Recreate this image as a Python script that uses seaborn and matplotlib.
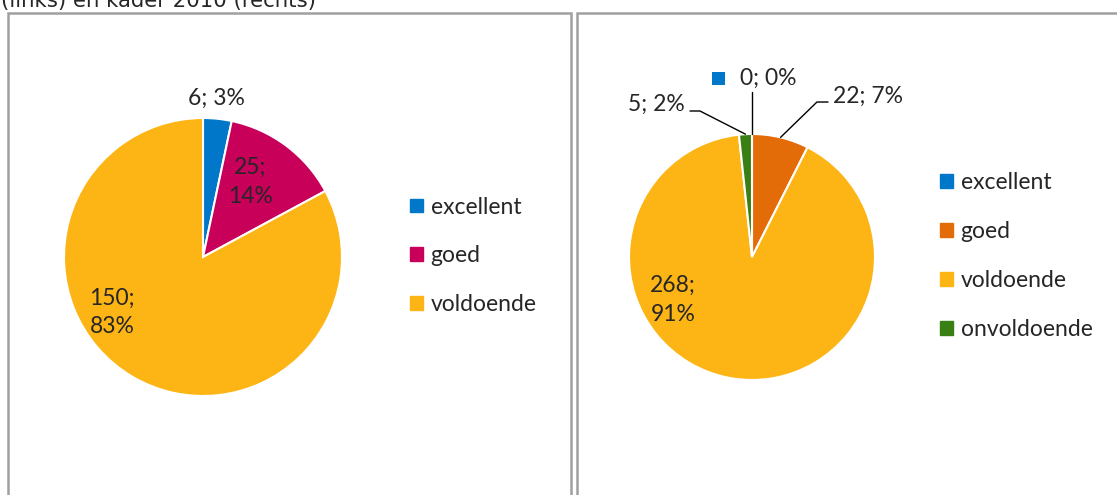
import numpy as np
import matplotlib
matplotlib.use("Agg")
import matplotlib.pyplot as plt
import seaborn as sns
from matplotlib.patches import Rectangle

sns.set_style("white")
plt.rcParams['font.family'] = ['Lato', 'DejaVu Sans']

# data
categories_left = ['excellent', 'goed', 'voldoende']
values_left = [6, 25, 150]
categories_right = ['excellent', 'goed', 'voldoende', 'onvoldoende']
values_right = [0, 22, 268, 5]

colors_left = ['#0077C8', '#C8005A', '#FDB515']
colors_right = ['#0077C8', '#E36C09', '#FDB515', '#3A7F14']

W, H = 1117, 495
fig = plt.figure(figsize=(W / 100, H / 100), dpi=100)


def px_axes(x0, y0, x1, y1):
    # pixel box (top-left origin) -> axes
    return fig.add_axes([x0 / W, 1 - y1 / H, (x1 - x0) / W, (y1 - y0) / H])


def pie_panel(box, center, radius, values, colors):
    ax = px_axes(*box)
    ax.pie(values, colors=colors, startangle=90, counterclock=False,
           wedgeprops=dict(edgecolor='white', linewidth=1.5))
    x0, y0, x1, y1 = box
    cx, cy = center
    ax.set_xlim((x0 - cx) / radius, (x1 - cx) / radius)
    ax.set_ylim((cy - y1) / radius, (cy - y0) / radius)
    ax.set_aspect('auto')
    ax.axis('off')
    return ax


def mid_angle(values, i):
    tot = sum(values)
    start = 90 - 360 * sum(values[:i]) / tot
    return np.deg2rad(start - 180 * values[i] / tot)


def lab(v, tot, sep='; '):
    return f"{v}{sep}{round(100 * v / tot)}%"


fs = 16.5
ls = 1.45

# left panel
axl = pie_panel((8, 13, 571, 495), (203, 257), 139, values_left, colors_left)
tl = sum(values_left)
axl.text(0.094, 1.14, lab(values_left[0], tl), ha='center', va='center', fontsize=fs)
axl.text(0.34, 0.54, lab(values_left[1], tl, ';\n'), ha='center', va='center',
         fontsize=fs, linespacing=ls)
axl.text(-0.655, -0.40, lab(values_left[2], tl, ';\n'), ha='center', va='center',
         fontsize=fs, linespacing=ls)

# right panel
axr = pie_panel((577, 13, 1130, 495), (752, 257), 123, values_right, colors_right)
tr = sum(values_right)
axr.text(-0.64, -0.35, lab(values_right[2], tr, ';\n'), ha='center', va='center',
         fontsize=fs, linespacing=ls)

# leader lines
lc = dict(color='black', lw=1.0)
# 0; 0%
a = mid_angle(values_right, 0)
axr.plot([np.cos(a), np.cos(a)], [1.0, 1.34], **lc)
axr.text(-0.10, 1.45, lab(values_right[0], tr), ha='left', va='center', fontsize=fs)
axr.add_patch(Rectangle((-0.325, 1.40), 0.105, 0.105, color=colors_right[0], lw=0))
# 22; 7%
a = mid_angle(values_right, 1)
axr.plot([np.cos(a), 0.528, 0.618], [np.sin(a), 1.26, 1.26], **lc)
axr.text(0.655, 1.31, lab(values_right[1], tr), ha='left', va='center', fontsize=fs)
# 5; 2%
a = mid_angle(values_right, 3)
axr.plot([np.cos(a), -0.423, -0.504], [np.sin(a), 1.187, 1.187], **lc)
axr.text(-0.545, 1.245, lab(values_right[3], tr), ha='right', va='center', fontsize=fs)

# panel frames
for x0, x1 in [(8, 571), (577, 1140)]:
    fig.add_artist(Rectangle((x0 / W, -0.1), (x1 - x0) / W, 1 - 13 / H + 0.1,
                             transform=fig.transFigure, fill=False,
                             edgecolor='#A0A0A0', lw=1.8))

# legends
leg_kw = dict(loc='center left', frameon=False, fontsize=fs, borderpad=0,
              borderaxespad=0, handlelength=0.55, handleheight=0.55,
              handletextpad=0.35, labelspacing=1.22)
handles_l = [plt.Rectangle((0, 0), 1, 1, color=c) for c in colors_left]
fig.legend(handles_l, categories_left, bbox_to_anchor=(410 / W, 1 - 256 / H), **leg_kw)
handles_r = [plt.Rectangle((0, 0), 1, 1, color=c) for c in colors_right]
fig.legend(handles_r, categories_right, bbox_to_anchor=(940 / W, 1 - 256 / H), **leg_kw)

fig.text(1 / W, 1 - 7 / H, '(links) en kader 2010 (rechts)', family='DejaVu Sans',
         fontsize=15.3, va='baseline', ha='left')

fig.savefig('out.png', dpi=100)
